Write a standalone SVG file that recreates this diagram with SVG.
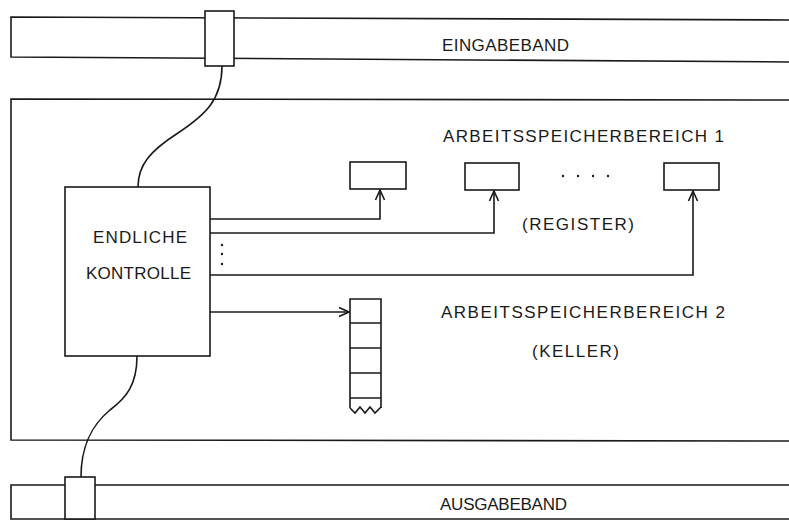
<svg xmlns="http://www.w3.org/2000/svg" width="789" height="527" viewBox="0 0 789 527">
<style>
.ln{fill:none;stroke:#1a1a1a;stroke-width:1.6;stroke-linejoin:miter}
.bx{fill:#fff;stroke:#1a1a1a;stroke-width:1.6}
.t{font-family:"Liberation Sans",Arial,sans-serif;font-size:17px;fill:#1a1a1a;letter-spacing:1px}
</style>
<defs>
<marker id="ah" viewBox="0 0 12 12" refX="11" refY="6" markerWidth="12" markerHeight="12" markerUnits="userSpaceOnUse" orient="auto">
<path d="M1,1.5 L11,6 L1,10.5" fill="none" stroke="#1a1a1a" stroke-width="1.6"/>
</marker>
</defs>
<rect width="789" height="527" fill="#fff"/>
<g id="eingabeband">
<path class="ln" d="M795,20 L11,17 L11,57 L795,62"/>
<text class="t" x="442" y="51" textLength="128" lengthAdjust="spacing">EINGABEBAND</text>
</g>
<g id="arbeitsbereich">
<path class="ln" d="M795,100 L11,99 L11,440 L795,441"/>
</g>
<g id="ausgabeband">
<path class="ln" d="M795,485 L11,485 L11,519 L795,519"/>
<text class="t" x="440" y="510" textLength="128" lengthAdjust="spacing">AUSGABEBAND</text>
</g>
<g id="connectors">
<path class="ln" d="M222,66 C222,100 205,115 178,133 C150,151 138,165 138,187"/>
<path class="ln" d="M137,356 C137,385 126,398 110,410 C92,425 81,445 81,477"/>
<path class="ln" d="M210,219 L380,219 L380,190" marker-end="url(#ah)"/>
<path class="ln" d="M210,233 L494,233 L494,191" marker-end="url(#ah)"/>
<path class="ln" d="M210,275 L693,275 L693,191" marker-end="url(#ah)"/>
<path class="ln" d="M210,312 L349,312" marker-end="url(#ah)"/>
<g fill="#1a1a1a">
<circle cx="222" cy="245" r="1.2"/><circle cx="222" cy="254" r="1.2"/><circle cx="222" cy="264" r="1.2"/>
</g>
</g>
<g id="eingabekopf">
<rect class="bx" x="205" y="11" width="29" height="55"/>
</g>
<g id="ausgabekopf">
<rect class="bx" x="65" y="477" width="30" height="42"/>
</g>
<g id="kontrolle">
<rect class="bx" x="65" y="187" width="145" height="169"/>
<text class="t" x="93" y="243" textLength="95" lengthAdjust="spacing">ENDLICHE</text>
<text class="t" x="86" y="279" textLength="106" lengthAdjust="spacing">KONTROLLE</text>
</g>
<g id="register1"><rect class="bx" x="350" y="162" width="56" height="27"/></g>
<g id="register2"><rect class="bx" x="465" y="163" width="54" height="27"/></g>
<g id="register3"><rect class="bx" x="664" y="163" width="55" height="27"/></g>
<g id="registerdots" fill="#1a1a1a">
<circle cx="563" cy="176" r="1.2"/><circle cx="578" cy="176" r="1.2"/><circle cx="593" cy="176" r="1.2"/><circle cx="608" cy="176" r="1.2"/>
</g>
<g id="bereich1">
<text class="t" x="443" y="142" textLength="282" lengthAdjust="spacing">ARBEITSSPEICHERBEREICH 1</text>
<text class="t" x="522" y="230" textLength="113" lengthAdjust="spacing">(REGISTER)</text>
</g>
<g id="keller">
<path class="ln" d="M350,408 L350,299 L381,299 L381,408"/>
<path class="ln" d="M350,323 H381 M350,348 H381 M350,373 H381 M350,398 H381"/>
<path class="ln" d="M350,408 L355,413 L360,407 L365,413 L370,407 L375,413 L381,407"/>
</g>
<g id="bereich2">
<text class="t" x="441" y="318" textLength="285" lengthAdjust="spacing">ARBEITSSPEICHERBEREICH 2</text>
<text class="t" x="532" y="357" textLength="88" lengthAdjust="spacing">(KELLER)</text>
</g>
</svg>
